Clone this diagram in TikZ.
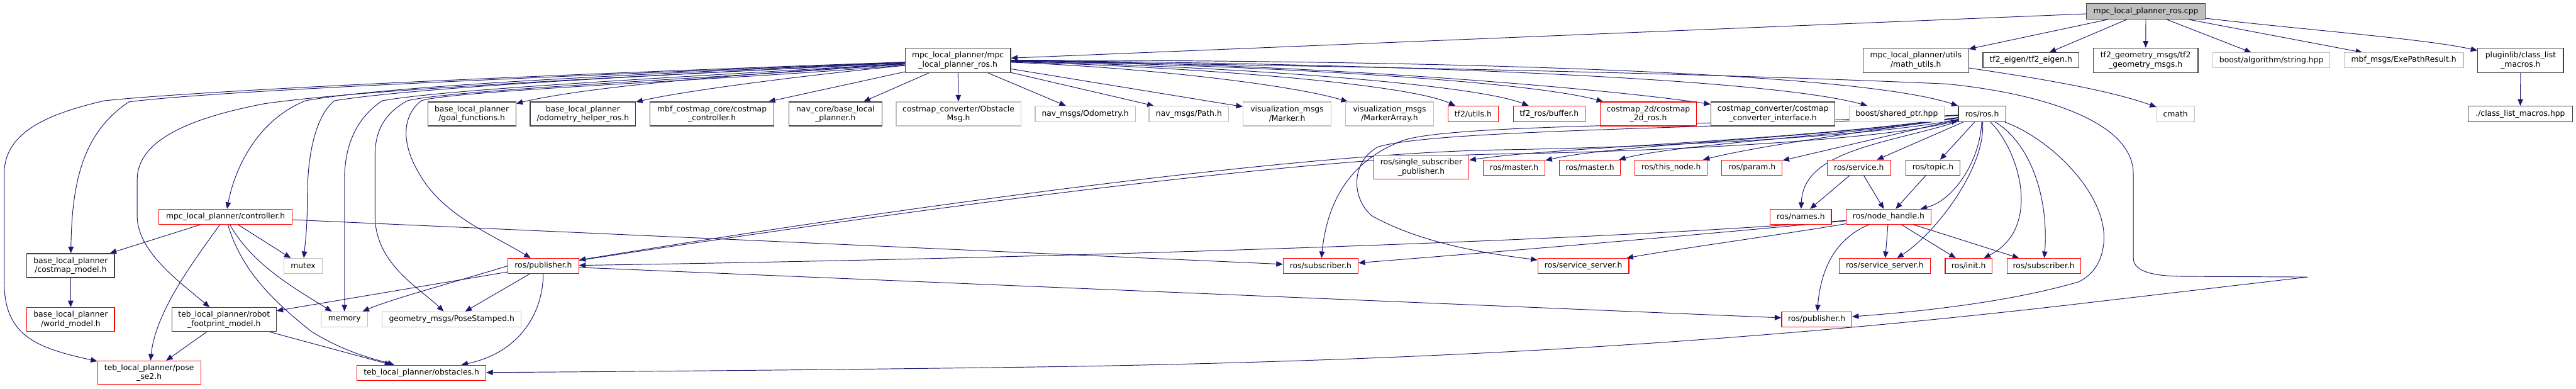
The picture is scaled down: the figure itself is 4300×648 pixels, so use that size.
\documentclass[tikz,border=0pt]{standalone}
\usepackage{fontspec}
\newfontfamily\djv{DejaVu Sans}
\usetikzlibrary{arrows.meta}
\definecolor{edgec}{HTML}{191970}
\definecolor{gborder}{HTML}{BFBFBF}
\definecolor{dborder}{HTML}{404040}
\definecolor{rootfill}{HTML}{BFBFBF}
\definecolor{rborder}{HTML}{FF0000}
\pgfdeclarelayer{bg}
\pgfsetlayers{bg,main}
\tikzset{
 nbase/.style={rectangle, inner sep=0pt, fill=white, line width=0.6pt, align=center, font=\djv\fontsize{6.5}{7.5}\selectfont},
 nb/.style={nbase, draw=dborder},
 nr/.style={nbase, draw=rborder},
 ng/.style={nbase, draw=gborder},
 nroot/.style={nbase, draw=dborder, fill=rootfill},
 edg/.style={draw=edgec, line width=0.5pt, -{Triangle[length=5.5pt,width=4.5pt]}},
}
\newcommand\bx[7]{\node[#2,minimum width=#5*0.5pt,minimum height=#6*0.5pt] (#1) at (#3,#4) {#7};}
\begin{document}
\begin{tikzpicture}[x=0.5pt,y=-0.5pt]
\useasboundingbox (0,0) rectangle (4300,648);
% nodes
\bx{root}{nroot}{3582}{19}{198}{26}{mpc\_local\_planner\_ros.cpp}
\bx{mpcros}{nb}{1599}{100.5}{176}{41}{mpc\_local\_planner/mpc\\\_local\_planner\_ros.h}
\bx{math}{nb}{3198}{100.5}{176}{41}{mpc\_local\_planner/utils\\/math\_utils.h}
\bx{tf2eigen}{nb}{3390}{100.5}{160}{25}{tf2\_eigen/tf2\_eigen.h}
\bx{tf2geo}{nb}{3581.5}{100.5}{175}{41}{tf2\_geometry\_msgs/tf2\\\_geometry\_msgs.h}
\bx{boostalg}{ng}{3791.5}{100.5}{195}{25}{boost/algorithm/string.hpp}
\bx{mbfmsgs}{ng}{4012.5}{100.5}{199}{25}{mbf\_msgs/ExePathResult.h}
\bx{plugin}{nb}{4207.5}{100.5}{143}{41}{pluginlib/class\_list\\\_macros.h}
\bx{classlist}{nb}{4207}{190}{174}{26}{./class\_list\_macros.hpp}
\bx{cmath}{ng}{3631.5}{190}{63}{26}{cmath}
\bx{goalf}{nb}{787.5}{190}{147}{40}{base\_local\_planner\\/goal\_functions.h}
\bx{odomh}{nb}{973}{190}{176}{40}{base\_local\_planner\\/odometry\_helper\_ros.h}
\bx{mbfcc}{nb}{1188.5}{190}{207}{40}{mbf\_costmap\_core/costmap\\\_controller.h}
\bx{navcore}{nb}{1394.5}{190}{155}{40}{nav\_core/base\_local\\\_planner.h}
\bx{obsmsg}{ng}{1600}{190}{208}{40}{costmap\_converter/Obstacle\\Msg.h}
\bx{odom}{ng}{1811.5}{190}{167}{26}{nav\_msgs/Odometry.h}
\bx{path}{ng}{1984.5}{190}{133}{26}{nav\_msgs/Path.h}
\bx{marker}{ng}{2148.5}{190}{147}{40}{visualization\_msgs\\/Marker.h}
\bx{markerarr}{ng}{2319.5}{190}{147}{40}{visualization\_msgs\\/MarkerArray.h}
\bx{tf2utils}{nr}{2459}{190}{84}{26}{tf2/utils.h}
\bx{tf2buf}{nr}{2586}{190}{120}{26}{tf2\_ros/buffer.h}
\bx{cm2d}{nr}{2751.5}{190}{161}{40}{costmap\_2d/costmap\\\_2d\_ros.h}
\bx{cci}{nb}{2959.5}{190}{207}{40}{costmap\_converter/costmap\\\_converter\_interface.h}
\bx{shptr}{ng}{3166}{190}{158}{26}{boost/shared\_ptr.hpp}
\bx{rosh}{nb}{3308.5}{190}{79}{26}{ros/ros.h}
\bx{ssp}{nr}{2372.5}{279}{159}{40}{ros/single\_subscriber\\\_publisher.h}
\bx{master1}{nr}{2527.5}{279.5}{103}{25}{ros/master.h}
\bx{master2}{nr}{2654}{279.5}{102}{25}{ros/master.h}
\bx{thisnode}{nr}{2789.5}{279.5}{121}{25}{ros/this\_node.h}
\bx{param}{nr}{2924.5}{279.5}{101}{25}{ros/param.h}
\bx{service}{nr}{3103}{279.5}{106}{25}{ros/service.h}
\bx{topic}{nb}{3226.5}{279.5}{91}{25}{ros/topic.h}
\bx{controller}{nr}{376.5}{361.5}{223}{25}{mpc\_local\_planner/controller.h}
\bx{names}{nr}{3006}{361.5}{102}{25}{ros/names.h}
\bx{nodeh}{nr}{3152.5}{361.5}{141}{25}{ros/node\_handle.h}
\bx{cmodel}{nb}{118}{443}{146}{40}{base\_local\_planner\\/costmap\_model.h}
\bx{mutex}{ng}{506}{443.5}{64}{25}{mutex}
\bx{pub1}{nr}{907}{443.5}{118}{25}{ros/publisher.h}
\bx{sub1}{nr}{2204.5}{443.5}{125}{25}{ros/subscriber.h}
\bx{ss1}{nr}{2643}{443.5}{152}{25}{ros/service\_server.h}
\bx{ss2}{nr}{3146}{443.5}{152}{25}{ros/service\_server.h}
\bx{init}{nr}{3286}{443.5}{78}{25}{ros/init.h}
\bx{sub2}{nr}{3411.5}{443.5}{123}{25}{ros/subscriber.h}
\bx{wmodel}{nr}{118}{533}{146}{40}{base\_local\_planner\\/world\_model.h}
\bx{rfm}{nb}{374}{533}{174}{40}{teb\_local\_planner/robot\\\_footprint\_model.h}
\bx{memory}{ng}{575}{532.5}{78}{25}{memory}
\bx{posest}{ng}{754}{532.5}{232}{25}{geometry\_msgs/PoseStamped.h}
\bx{pub2}{nr}{3032.5}{532.5}{117}{25}{ros/publisher.h}
\bx{pose}{nr}{249}{621.5}{172}{39}{teb\_local\_planner/pose\\\_se2.h}
\bx{obst}{nr}{703.5}{622}{215}{26}{teb\_local\_planner/obstacles.h}
% edges
\begin{pgfonlayer}{bg}
\draw[edg] (root) -- (mpcros);
\draw[edg] (root) -- (math);
\draw[edg] (root) -- (tf2eigen);
\draw[edg] (root) -- (tf2geo);
\draw[edg] (root) -- (boostalg);
\draw[edg] (root) -- (mbfmsgs);
\draw[edg] (root) .. controls (3850,50) and (4050,65) .. (plugin);
\draw[edg] (plugin) -- (classlist);
\draw[edg] (math) .. controls (3400,130) and (3520,150) .. (cmath);
% mpcros right
\draw[edg] (mpcros) -- (obsmsg);
\draw[edg] (mpcros) -- (navcore);
\draw[edg] (mpcros) -- (mbfcc);
\draw[edg] (mpcros) -- (odom);
\draw[edg] (mpcros) -- (path);
\draw[edg] (mpcros) -- (marker);
\draw[edg] (mpcros) .. controls (1900,112) and (2150,140) .. (markerarr);
\draw[edg] (mpcros) .. controls (2000,112) and (2350,140) .. (tf2utils);
\draw[edg] (mpcros) .. controls (2050,110) and (2460,140) .. (tf2buf);
\draw[edg] (mpcros) .. controls (2100,108) and (2550,135) .. (cm2d);
\draw[edg] (mpcros) .. controls (2200,105) and (2700,150) .. (cci);
\draw[edg] (mpcros) .. controls (2300,105) and (2950,130) .. (shptr);
\draw[edg] (mpcros) .. controls (2400,100) and (3100,120) .. (rosh);
\draw[edg] (mpcros) .. controls (2200,110) and (2800,120) .. (3250,140) .. controls (3400,155) and (3561,200) .. (3561,290) -- (3561,430) .. controls (3561,455) and (3600,461) .. (3650,461) -- (3852,462) -- (3450,509) .. controls (2900,572) and (2400,600) .. (1800,611) .. controls (1400,617) and (1000,620) .. (obst);
% mpcros left
\draw[edg] (mpcros) .. controls (1300,120) and (1000,140) .. (goalf);
\draw[edg] (mpcros) .. controls (1350,125) and (1150,150) .. (odomh);
\draw[edg] (mpcros) .. controls (900,125) and (350,150) .. (174,168) .. controls (80,190) and (7,220) .. (7,290) -- (7,470) .. controls (7,560) and (60,580) .. (pose);
\draw[edg] (mpcros) .. controls (900,128) and (350,152) .. (215,170) .. controls (140,220) and (120,300) .. (cmodel);
\draw[edg] (mpcros) .. controls (1000,130) and (600,150) .. (441,173) .. controls (300,200) and (229,240) .. (229,300) -- (229,360) .. controls (229,420) and (300,470) .. (rfm);
\draw[edg] (mpcros) .. controls (1100,122) and (650,142) .. (510,168) .. controls (430,200) and (392,280) .. (controller);
\draw[edg] (mpcros) .. controls (1100,125) and (700,145) .. (558,168) .. controls (520,200) and (513,280) .. (513,330) .. controls (513,380) and (510,400) .. (mutex);
\draw[edg] (mpcros) .. controls (1150,128) and (750,148) .. (638,168) .. controls (590,200) and (575,250) .. (575,300) .. controls (575,400) and (575,450) .. (memory);
\draw[edg] (mpcros) .. controls (1200,130) and (750,150) .. (680,168) .. controls (640,190) and (626,220) .. (626,260) -- (626,360) .. controls (626,440) and (700,480) .. (posest);
\draw[edg] (mpcros) .. controls (1250,132) and (760,150) .. (703,168) .. controls (670,195) and (670,240) .. (700,290) .. controls (740,360) and (820,390) .. (pub1);
% controller
\draw[edg] (controller) -- (cmodel);
\draw[edg] (controller) .. controls (320,440) and (260,520) .. (pose);
\draw[edg] (controller) .. controls (400,440) and (440,490) .. (520,553) .. controls (580,590) and (630,600) .. (obst);
\draw[edg] (controller) .. controls (420,440) and (490,480) .. (memory);
\draw[edg] (controller) -- (mutex);
\draw[edg] (controller) -- (sub1);
\draw[edg] (cmodel) -- (wmodel);
\draw[edg] (rfm) -- (pose);
\draw[edg] (rfm) -- (obst);
% pub1
\draw[edg] (pub1) -- (rfm);
\draw[edg] (pub1.west) .. controls (760,470) and (650,500) .. (memory);
\draw[edg] (pub1) -- (posest);
\draw[edg] (pub1) .. controls (906,530) and (860,590) .. (obst);
\draw[edg] (pub1) -- (pub2);
\draw[edg] (rosh) .. controls (3150,225) and (2800,245) .. (2500,250) .. controls (2200,255) and (1600,330) .. (pub1);
\draw[edg] (pub1) .. controls (1600,337) and (2200,262) .. (2500,257) .. controls (2800,252) and (3150,232) .. (rosh);
% node handle
\draw[edg] (nodeh) .. controls (2700,400) and (1800,430) .. (pub1);
\draw[edg] (nodeh) .. controls (2800,395) and (2500,420) .. (sub1);
\draw[edg] (nodeh) .. controls (2950,395) and (2800,415) .. (ss1);
\draw[edg] (nodeh) -- (ss2);
\draw[edg] (nodeh) -- (init);
\draw[edg] (nodeh) -- (sub2);
\draw[edg] (nodeh) .. controls (3070,395) and (3040,440) .. (pub2);
\draw[edg] (service) -- (names);
\draw[edg] (service) -- (nodeh);
\draw[edg] (topic) -- (nodeh);
% ros.h
\draw[edg] (rosh) .. controls (3150,240) and (3010,250) .. (names);
\draw[edg] (rosh) .. controls (3305,270) and (3260,335) .. (nodeh);
\draw[edg] (rosh) .. controls (3315,280) and (3230,390) .. (ss2);
\draw[edg] (rosh) .. controls (3370,250) and (3410,380) .. (init);
\draw[edg] (rosh) .. controls (3390,240) and (3420,330) .. (sub2);
\draw[edg] (rosh) .. controls (3420,230) and (3515,320) .. (3512,400) .. controls (3510,440) and (3490,460) .. (3470,470) .. controls (3350,505) and (3200,520) .. (pub2);
\draw[edg] (rosh) -- (service);
\draw[edg] (rosh) -- (topic);
\draw[edg] (rosh) -- (param);
\draw[edg] (rosh) .. controls (3150,215) and (2950,240) .. (thisnode);
\draw[edg] (rosh) .. controls (3100,225) and (2800,240) .. (master2);
\draw[edg] (rosh) .. controls (3050,230) and (2700,240) .. (master1);
\draw[edg] (rosh) .. controls (3000,235) and (2600,245) .. (ssp);
\draw[edg] (rosh) .. controls (2900,210) and (2420,205) .. (2340,235) .. controls (2250,270) and (2215,340) .. (sub1);
\draw[edg] (rosh) .. controls (2900,215) and (2400,215) .. (2300,245) .. controls (2255,270) and (2255,330) .. (2290,360) .. controls (2380,410) and (2500,425) .. (ss1);
\end{pgfonlayer}
\end{tikzpicture}
\end{document}
